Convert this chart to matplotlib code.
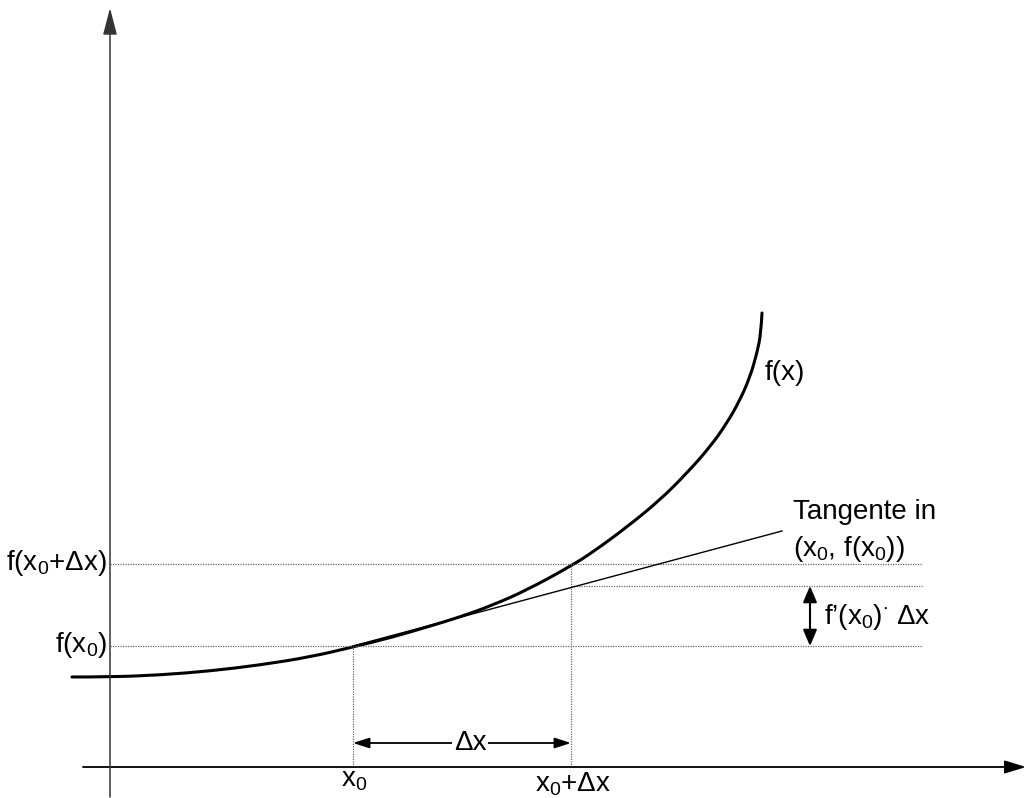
import matplotlib
matplotlib.use("Agg")
import matplotlib.pyplot as plt
from matplotlib.path import Path
from matplotlib.patches import PathPatch

plt.rcParams['font.family'] = ['Liberation Sans', 'DejaVu Sans']
plt.rcParams['mathtext.fontset'] = 'custom'
plt.rcParams['mathtext.rm'] = 'Liberation Sans'
plt.rcParams['mathtext.it'] = 'Liberation Sans'

# ---- data (origin at axis crossing) ----
curve_x = [-38, 0, 50, 100, 150, 200, 243, 283, 317, 350, 383, 417, 461,
           483, 517, 550, 577, 600, 617, 630, 640, 647, 651, 652]
curve_y = [90, 90, 92, 96, 102, 110, 120, 130, 140, 150, 162, 177, 201,
           215, 240, 267, 294, 320, 344, 367, 390, 414, 434, 454]

x0 = 243
x1 = 461
f_x0 = 121
f_x1 = 203
tangent_at_x1 = 181
tangent_x = [243, 672]
tangent_y = [121, 236]
guide_end = 812

xlabels = ["x$\\mathregular{_0}$", "x$\\mathregular{_0}$+Δx"]
ylabels = ["f(x$\\mathregular{_0}$)", "f(x$\\mathregular{_0}$+Δx)"]

fig = plt.figure(figsize=(10.26, 7.98), dpi=100)
ax = fig.add_axes([0, 0, 1, 1])
ax.set_xlim(-110, 916)
ax.set_ylim(-31, 767)
ax.axis('off')

FS = 20
dot = dict(color='#666666', lw=0.9, ls=(0, (1, 1)))

# axes with arrows
ax.annotate("", xy=(916, 0), xytext=(-27, 0),
            arrowprops=dict(arrowstyle='-|>,head_length=1.3,head_width=0.4',
                            mutation_scale=10, color='black', lw=1.3,
                            shrinkA=0, shrinkB=0))
ax.annotate("", xy=(0, 759), xytext=(0, -30),
            arrowprops=dict(arrowstyle='-|>,head_length=1.65,head_width=0.43',
                            mutation_scale=10, color='#333333', lw=1.1,
                            shrinkA=0, shrinkB=0))

# guide lines
ax.plot([0, guide_end], [f_x0, f_x0], **dot)
ax.plot([0, guide_end], [f_x1, f_x1], **dot)
ax.plot([x1, guide_end], [tangent_at_x1, tangent_at_x1], **dot)
ax.plot([x0, x0], [0, f_x0], **dot)
ax.plot([x1, x1], [0, f_x1], **dot)

# tangent
ax.plot(tangent_x, tangent_y, color='black', lw=1.0)

# curve: smooth quadratic-Bezier rendering through the read points
pts = list(zip(curve_x, curve_y))
verts = [pts[0]]
codes = [Path.MOVETO]
for i in range(1, len(pts) - 1):
    mid = ((pts[i][0] + pts[i + 1][0]) / 2, (pts[i][1] + pts[i + 1][1]) / 2)
    if i == len(pts) - 2:
        mid = pts[-1]
    verts += [pts[i], mid]
    codes += [Path.CURVE3, Path.CURVE3]
ax.add_patch(PathPatch(Path(verts, codes), fill=False, edgecolor='black',
                       lw=2.2, capstyle='round'))

# delta x arrow
ax.annotate("", xy=(x0, 24), xytext=(x1, 24),
            arrowprops=dict(arrowstyle='<|-|>,head_length=1.4,head_width=0.45',
                            mutation_scale=7, color='black', lw=1.3,
                            shrinkA=0, shrinkB=0))
ax.text(360, 24, "Δx", fontsize=FS, ha='center', va='center',
        bbox=dict(facecolor='white', edgecolor='none', pad=1.5))

# f'(x0) dx arrow
ax.annotate("", xy=(700, f_x0), xytext=(700, tangent_at_x1),
            arrowprops=dict(arrowstyle='<|-|>,head_length=1.4,head_width=0.6',
                            mutation_scale=7, color='black', lw=1.5,
                            shrinkA=0, shrinkB=0))

# labels
ax.text(x0 + 1, -13, xlabels[0], fontsize=FS, ha='center', va='center')
ax.text(x1 + 2, -17, xlabels[1], fontsize=FS, ha='center', va='center')
ax.text(-3, f_x0 + 1, ylabels[0], fontsize=FS, ha='right', va='center')
ax.text(-3, f_x1 + 1, ylabels[1], fontsize=FS, ha='right', va='center')
ax.text(655, 394, "f(x)", fontsize=FS, ha='left', va='center')
ax.text(683, 255, "Tangente in", fontsize=FS, ha='left', va='center')
ax.text(683, 218, "(x$\\mathregular{_0}$, f(x$\\mathregular{_0}$))", fontsize=FS, ha='left', va='center')
ax.text(714, 150, "f’(x$\\mathregular{_0}$)$\\mathregular{^{\\cdot}}$ Δx", fontsize=FS, ha='left', va='center')

fig.savefig("out.png", dpi=100)
